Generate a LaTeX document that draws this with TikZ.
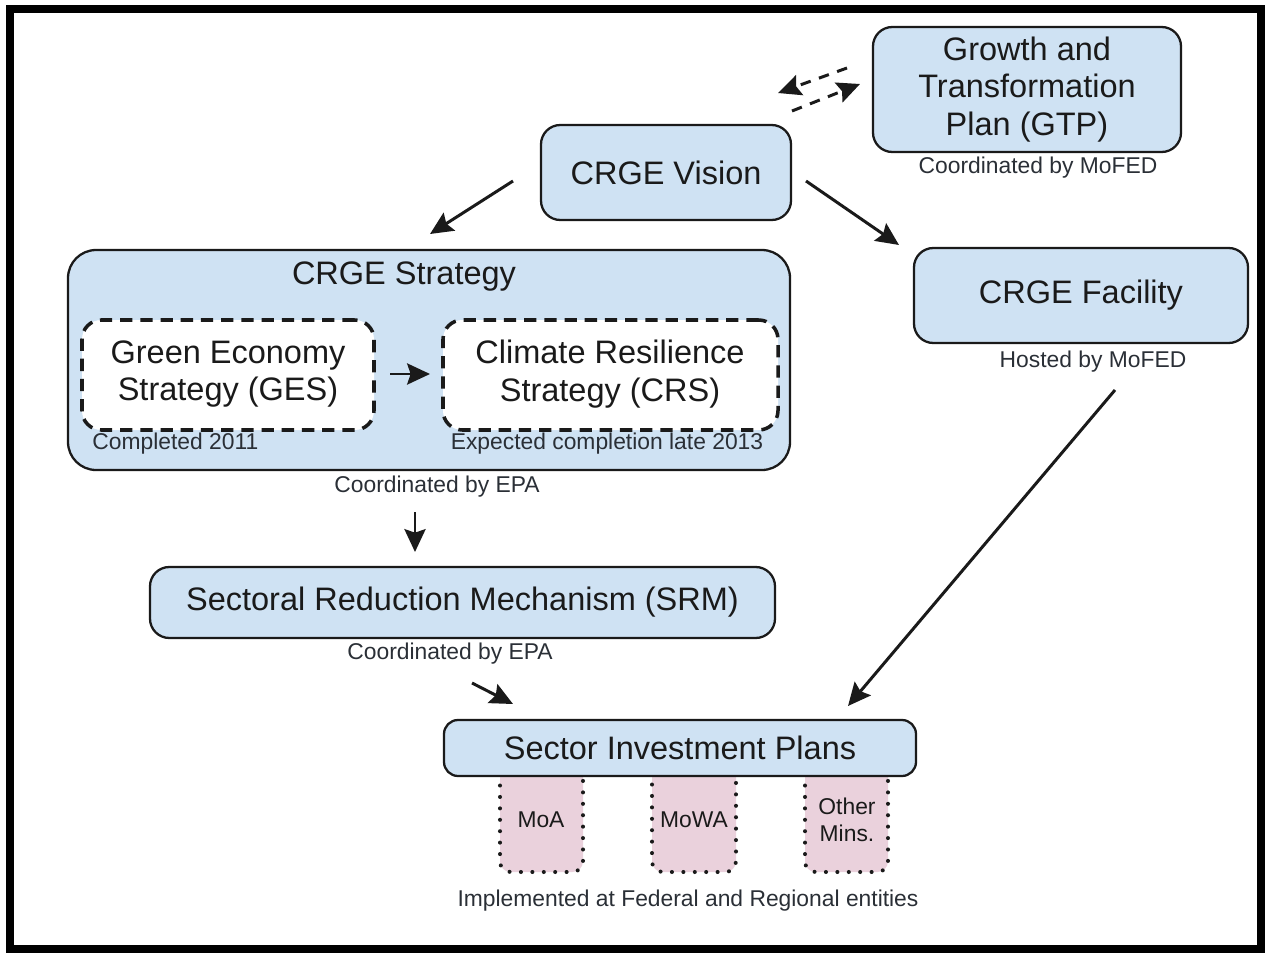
\documentclass[tikz,border=0pt]{standalone}
\usepackage{fontspec}
\setmainfont{Liberation Sans}
\usetikzlibrary{fit,arrows.meta}
\definecolor{boxblue}{HTML}{CFE2F3}
\definecolor{boxpink}{HTML}{EAD1DC}
\definecolor{ink}{HTML}{1A1A1A}
\definecolor{noteink}{HTML}{2A2F36}
\tikzset{
 bluebox/.style={draw=ink, line width=1.3pt, fill=boxblue, rounded corners=11pt, inner sep=0pt},
 dashbox/.style={draw=ink, line width=2pt, fill=white, rounded corners=11pt, dash pattern=on 7pt off 4.5pt, inner sep=0pt},
 pinkbox/.style={draw=ink, line width=2.3pt, fill=boxpink, rounded corners=6pt, dash pattern=on 0pt off 6.5pt, line cap=round, inner sep=0pt},
 bigtext/.style={text=ink, font=\fontsize{18.5}{21.5}\selectfont, inner sep=0pt, align=center},
 smalltext/.style={text=ink, font=\fontsize{13}{15.5}\selectfont, inner sep=0pt, align=center},
 note/.style={text=noteink, font=\fontsize{13}{15}\selectfont, inner sep=0pt},
 arr/.style={draw=ink, line width=1.7pt, -{Stealth[length=13pt,width=12pt,inset=2pt]}},
 darr/.style={arr, dash pattern=on 6pt off 5pt},
}
\begin{document}
\begin{tikzpicture}[x=0.02cm, y=-0.02cm]
\useasboundingbox (0,0) rectangle (1265,953);
\draw[line width=4pt, black] (10,9) rectangle (1261,949);

% GTP
\node[bluebox, fit={(873,27) (1181,152)}] (gtp) {};
\node[bigtext] (gtptext) at (gtp.center) {Growth and\\Transformation\\Plan (GTP)};
\node[note] (gtpnote) at (1038,168) {Coordinated by MoFED};

% Vision
\node[bluebox, fit={(541,125) (791,220)}] (vision) {};
\node[bigtext] (visiontext) at (vision.center) {CRGE Vision};

% Strategy
\node[bluebox, rounded corners=16pt, fit={(68,250) (790,470)}] (strategy) {};
\node[bigtext] (strattitle) at (404,277) {CRGE Strategy};
\node[dashbox, fit={(82,320) (374,430)}] (ges) {};
\node[bigtext] (gestext) at (228,374) {Green Economy\\Strategy (GES)};
\node[dashbox, fit={(443,320) (778,430)}] (crs) {};
\node[bigtext] (crstext) at (610,374) {Climate Resilience\\Strategy (CRS)};
\node[note, anchor=west] (gesnote) at (92,444) {Completed 2011};
\node[note] (crsnote) at (607,444) {Expected completion late 2013};
\node[note] (stratnote) at (437,487) {Coordinated by EPA};

% Facility
\node[bluebox, fit={(914,248) (1248,343)}] (facility) {};
\node[bigtext] (factext) at (facility.center) {CRGE Facility};
\node[note] (facnote) at (1093,362) {Hosted by MoFED};

% SRM
\node[bluebox, fit={(150,567) (775,638)}] (srm) {};
\node[bigtext] (srmtext) at (srm.center) {Sectoral Reduction Mechanism (SRM)};
\node[note] (srmnote) at (450,654) {Coordinated by EPA};

% Ministries
\node[pinkbox, fit={(500,762) (583,872)}] (moa) {};
\node[smalltext] (moatext) at (541,820) {MoA};
\node[pinkbox, fit={(652,762) (736,872)}] (mowa) {};
\node[smalltext] (mowatext) at (694,820) {MoWA};
\node[pinkbox, fit={(805,762) (888,872)}] (other) {};
\node[smalltext] (othertext) at (847,820) {Other\\Mins.};

% SIP
\node[bluebox, rounded corners=8pt, fit={(444,720) (916,776)}] (sip) {};
\node[bigtext] (siptext) at (sip.center) {Sector Investment Plans};
\node[note] (sipnote) at (688,901) {Implemented at Federal and Regional entities};

% connector end points
\coordinate (g1) at (390,374); \coordinate (g2) at (430,374);
\coordinate (v1) at (513,181); \coordinate (v2) at (430,234);
\coordinate (v3) at (806,181); \coordinate (v4) at (899,245);
\coordinate (s1) at (415,512); \coordinate (s2) at (415,552);
\coordinate (r1) at (472,683); \coordinate (r2) at (513,704);
\coordinate (f1) at (1115,390); \coordinate (f2) at (848,706);
\coordinate (d1) at (847,68); \coordinate (d2) at (778,93);
\coordinate (d3) at (792,111); \coordinate (d4) at (860,84);

\draw[arr] (g1) -- (g2);
\draw[arr] (v1) -- (v2);
\draw[arr] (v3) -- (v4);
\draw[arr] (s1) -- (s2);
\draw[arr] (r1) -- (r2);
\draw[arr] (f1) -- (f2);
\draw[darr] (d1) -- (d2);
\draw[darr] (d3) -- (d4);
\end{tikzpicture}
\end{document}
